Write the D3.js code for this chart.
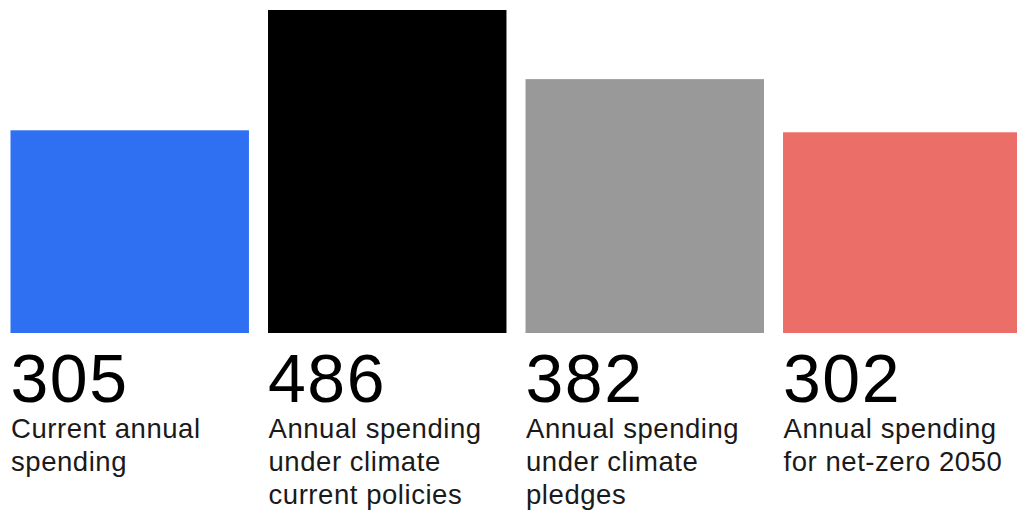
<!DOCTYPE html>
<html>
<head>
<meta charset="utf-8">
<script src="https://cdn.jsdelivr.net/npm/d3@7"></script>
<style>
  body { margin: 0; background: #fff; }
  svg text { font-family: "Liberation Sans", Arial, Helvetica, sans-serif; }
</style>
</head>
<body>
<script>
// data
const categories = ["current", "policies", "pledges", "netzero"];
const values = [305, 486, 382, 302];
const labels = [
  ["Current annual", "spending"],
  ["Annual spending", "under climate", "current policies"],
  ["Annual spending", "under climate", "pledges"],
  ["Annual spending", "for net-zero 2050"]
];
const colors = ["#2f70f3", "#000000", "#999999", "#ec6e68"];

function tegnSoejler() {
  const width = 1017;
  const height = 510;

  const svg = d3.select("body").append("svg")
    .attr("width", width)
    .attr("height", height);

  const x = d3.scaleBand()
    .domain(categories)
    .range([10.5, 1021.5])
    .paddingInner(0.074)
    .paddingOuter(0);

  const y = d3.scaleLinear()
    .domain([0, d3.max(values)])
    .range([333, 10]);

  const grupper = svg.selectAll("g.kolonne")
    .data(categories)
    .enter()
    .append("g")
    .attr("class", "kolonne")
    .attr("transform", d => `translate(${x(d)},0)`);

  grupper.append("rect")
    .attr("x", 0)
    .attr("y", (d, i) => y(values[i]))
    .attr("width", x.bandwidth())
    .attr("height", (d, i) => y(0) - y(values[i]))
    .attr("fill", (d, i) => colors[i]);

  grupper.append("text")
    .attr("x", 0)
    .attr("y", 402)
    .attr("font-size", 68)
    .attr("letter-spacing", 1.5)
    .attr("fill", "#000")
    .text((d, i) => values[i]);

  grupper.each(function(d, i) {
    const t = d3.select(this).append("text")
      .attr("x", 0.5)
      .attr("y", 438)
      .attr("font-size", 27.5)
      .attr("letter-spacing", 0.55)
      .attr("fill", "#1a1a1a");
    labels[i].forEach((linje, j) => {
      t.append("tspan")
        .attr("x", 0.5)
        .attr("dy", j === 0 ? 0 : 33)
        .text(linje);
    });
  });
}

tegnSoejler();
</script>
</body>
</html>
